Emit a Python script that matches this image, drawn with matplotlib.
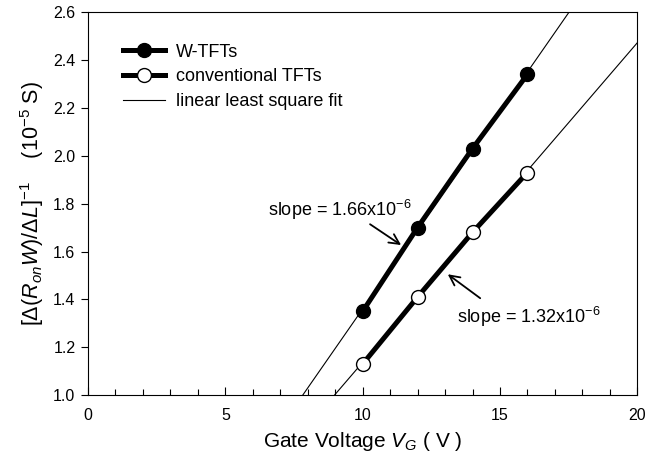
import numpy as np
import matplotlib
matplotlib.use("Agg")
import matplotlib.pyplot as plt

plt.rcParams['font.family'] = ['Liberation Sans', 'DejaVu Sans']
plt.rcParams['mathtext.fontset'] = 'custom'
plt.rcParams['mathtext.rm'] = 'Liberation Sans'
plt.rcParams['mathtext.it'] = 'Liberation Sans:italic'

vg = [10, 12, 14, 16]
w_tft = [1.35, 1.70, 2.03, 2.34]
conv_tft = [1.13, 1.41, 1.68, 1.93]

fig = plt.figure(figsize=(6.47, 4.66), dpi=100)
ax = fig.add_axes([0.136, 0.152, 0.849, 0.822])

# least square fit lines, drawn over the whole x range
xx = np.linspace(0, 20, 200)
for y in [w_tft, conv_tft]:
    k, b = np.polyfit(vg, y, 1)
    ax.plot(xx, k * xx + b, color='black', lw=0.8, zorder=1)

ax.plot(vg, w_tft, '-o', color='black', lw=3.6, ms=10, mfc='black', mec='black',
        label='W-TFTs', zorder=3)
ax.plot(vg, conv_tft, '-o', color='black', lw=3.6, ms=10, mfc='white', mec='black',
        mew=1.0, label='conventional TFTs', zorder=3)
ax.plot([], [], color='black', lw=0.8, label='linear least square fit')

arrow = dict(arrowstyle='->', color='black', lw=1.3, shrinkA=0, shrinkB=0,
             mutation_scale=18)
ax.text(6.56, 1.775, r'slope = 1.66x10$^{-6}$', fontsize=13, ha='left', va='center')
ax.annotate('', xy=(11.4, 1.627), xytext=(10.27, 1.714), arrowprops=arrow)
ax.text(13.44, 1.326, r'slope = 1.32x10$^{-6}$', fontsize=13, ha='left', va='center')
ax.annotate('', xy=(13.1, 1.505), xytext=(14.28, 1.405), arrowprops=arrow)

ax.set_xlim(0, 20)
ax.set_ylim(1.0, 2.6)
ax.set_xticks([0, 5, 10, 15, 20])
ax.set_xticks(range(0, 21), minor=True)
ax.set_yticks(np.arange(1.0, 2.61, 0.2))
ax.yaxis.set_major_formatter(matplotlib.ticker.FormatStrFormatter('%.1f'))
ax.tick_params(axis='x', direction='in', length=6, labelsize=11.5, width=0.8, pad=9)
ax.tick_params(axis='x', which='minor', direction='in', length=4, width=0.8)
ax.tick_params(axis='y', direction='out', length=5, labelsize=11.5, width=0.8, pad=4)
for s in ax.spines.values():
    s.set_linewidth(0.8)

ax.set_xlabel(r'Gate Voltage $V_G$ ( V )', fontsize=15, labelpad=5)
ax.set_ylabel(r'$[\mathit{\Delta}(R_{on}W)/\mathit{\Delta}L]^{-1}$    (10$^{-5}$ S)',
              fontsize=15.5, labelpad=5)

leg = ax.legend(loc='upper left', frameon=False, fontsize=13, handlelength=2.3,
                bbox_to_anchor=(0.035, 0.96), labelspacing=0.42, handletextpad=0.6)

fig.savefig('out.png', dpi=100)
